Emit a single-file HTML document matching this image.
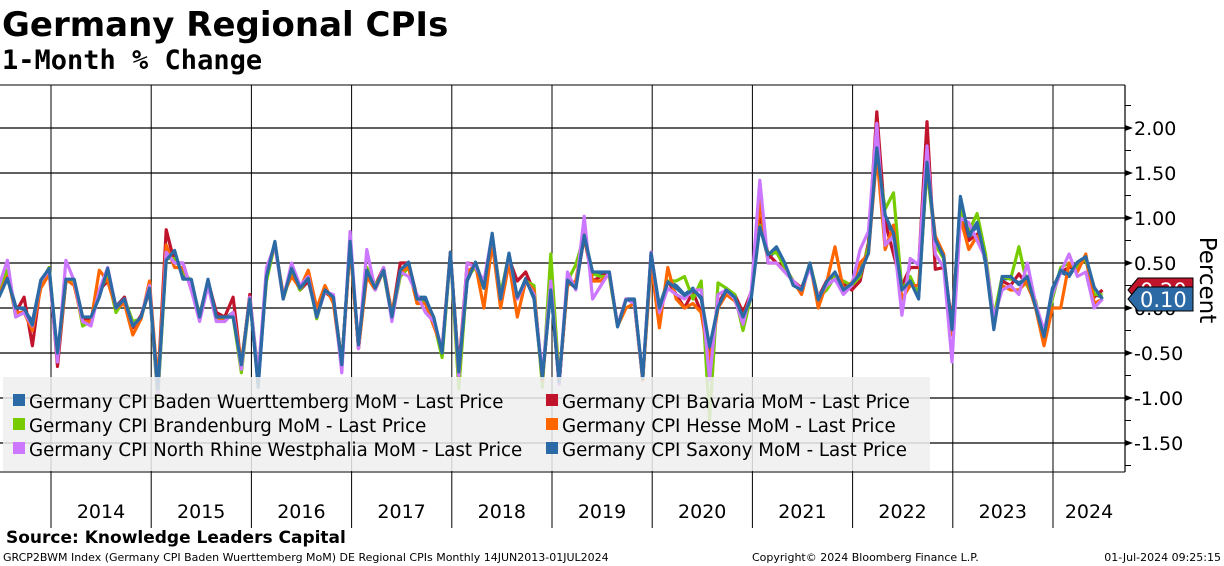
<!DOCTYPE html>
<html><head><meta charset="utf-8"><style>
body{margin:0;background:#fff;width:1224px;height:566px;overflow:hidden;font-family:"DejaVu Sans","Liberation Sans",sans-serif}
svg{display:block}
</style></head><body>
<svg id="c" width="1224" height="566" xmlns="http://www.w3.org/2000/svg">
<text x="2" y="36" font-size="34" font-weight="bold" font-family="DejaVu Sans, sans-serif">Germany Regional CPIs</text>
<text x="2" y="69" font-size="27" font-weight="bold" font-family="DejaVu Sans Mono, monospace">1-Month % Change</text>
<g id="grid"></g>
<g id="series"></g>
<g id="axis"></g>
<g id="legend"></g>
<text x="6" y="543" font-size="17" font-weight="bold">Source: Knowledge Leaders Capital</text>
<text x="3" y="561" font-size="11">GRCP2BWM Index (Germany CPI Baden Wuerttemberg MoM) DE Regional CPIs  Monthly 14JUN2013-01JUL2024</text>
<text x="752" y="561" font-size="11">Copyright© 2024 Bloomberg Finance L.P.</text>
<text x="1221" y="561" font-size="11" text-anchor="end">01-Jul-2024 09:25:15</text>
</svg>
<script>
const years=["2014","2015","2016","2017","2018","2019","2020","2021","2022","2023","2024"];
const yTicks=[2.0,1.5,1.0,0.5,0.0,-0.5,-1.0,-1.5];
const yTickLabels=["2.00","1.50","1.00","0.50","0.00","-0.50","-1.00","-1.50"];
const saxony=[0.12,0.33,0.0,0.0,-0.19,0.31,0.44,-0.5,0.32,0.32,
-0.1,-0.1,0.12,0.44,0.0,0.1,-0.2,-0.1,0.22,-0.9,
0.53,0.64,0.32,0.32,-0.1,0.32,-0.1,-0.1,-0.1,-0.63,
0.1,-0.85,0.35,0.74,0.1,0.44,0.22,0.33,-0.1,0.2,
0.12,-0.63,0.74,-0.41,0.42,0.22,0.42,-0.1,0.42,0.51,
0.1,0.1,-0.1,-0.5,0.62,-0.71,0.31,0.51,0.22,0.83,
0.1,0.61,0.12,0.31,0.12,-0.78,0.2,-0.82,0.31,0.22,
0.81,0.4,0.4,0.4,-0.21,0.09,0.09,-0.78,0.61,0.0,
0.29,0.22,0.14,0.2,0.12,-0.43,0.01,0.2,0.12,-0.1,
0.12,0.9,0.59,0.68,0.5,0.25,0.2,0.5,0.09,0.29,
0.4,0.2,0.27,0.38,0.61,1.78,1.03,0.83,0.2,0.3,
0.1,1.62,0.76,0.57,-0.24,1.24,0.8,0.95,0.53,-0.24,
0.35,0.35,0.26,0.35,0.01,-0.32,0.2,0.42,0.37,0.51,
0.57,0.23,0.1];
const bw=[0.15,0.35,0.02,-0.02,-0.15,0.3,0.42,-0.55,0.3,0.3,
-0.12,-0.12,0.15,0.4,0.02,0.12,-0.22,-0.1,0.2,-1.0,
0.6,0.6,0.35,0.3,-0.12,0.3,-0.08,-0.12,-0.05,-0.65,
0.12,-0.88,0.38,0.72,0.12,0.4,0.2,0.3,-0.08,0.22,
0.1,-0.6,0.72,-0.45,0.4,0.25,0.4,-0.12,0.4,0.5,
0.12,0.12,-0.12,-0.52,0.6,-0.72,0.3,0.5,0.25,0.8,
0.12,0.58,0.1,0.33,0.1,-0.8,0.22,-0.85,0.3,0.25,
0.78,0.38,0.38,0.38,-0.2,0.1,0.1,-0.8,0.58,0.02,
0.3,0.25,0.15,0.22,0.1,-0.45,0.03,0.22,0.1,-0.08,
0.15,0.92,0.55,0.65,0.48,0.28,0.22,0.48,0.1,0.3,
0.38,0.22,0.28,0.4,0.65,1.72,1.0,0.8,0.22,0.32,
0.12,1.6,0.72,0.55,-0.22,1.2,0.78,0.92,0.5,-0.2,
0.32,0.33,0.28,0.33,0.03,-0.3,0.22,0.4,0.35,0.5,
0.55,0.15,0.12];
const bavaria=[0.15,0.38,-0.05,0.12,-0.42,0.28,0.45,-0.65,0.3,0.3,
-0.1,-0.15,0.2,0.3,0.0,0.12,-0.22,-0.08,0.2,-0.85,
0.87,0.5,0.5,0.2,-0.08,0.3,-0.05,-0.1,0.12,-0.65,
0.15,-0.8,0.4,0.7,0.12,0.45,0.2,0.3,-0.05,0.18,
0.1,-0.6,0.7,-0.45,0.4,0.25,0.45,-0.08,0.5,0.5,
0.12,0.08,-0.12,-0.5,0.62,-0.68,0.5,0.48,0.25,0.8,
0.15,0.55,0.3,0.4,0.18,-0.8,0.25,-0.85,0.3,0.22,
0.8,0.3,0.35,0.4,-0.2,0.1,0.05,-0.78,0.62,-0.05,
0.3,0.15,0.0,0.18,-0.05,-0.6,0.05,0.2,0.15,-0.05,
0.18,1.0,0.6,0.5,0.45,0.3,0.22,0.45,0.12,0.3,
0.38,0.28,0.2,0.3,0.72,2.18,0.95,0.6,0.25,0.45,
0.45,2.07,0.43,0.45,-0.15,1.1,0.75,0.82,0.55,-0.1,
0.3,0.25,0.38,0.25,0.05,-0.35,0.15,0.4,0.45,0.45,
0.55,0.12,0.2];
const brandenburg=[0.2,0.42,-0.1,-0.05,-0.2,0.28,0.45,-0.55,0.3,0.3,
-0.2,-0.15,0.2,0.35,-0.05,0.1,-0.15,-0.12,0.25,-1.0,
0.55,0.55,0.4,0.3,-0.08,0.28,-0.15,-0.1,-0.1,-0.72,
0.1,-0.72,0.3,0.72,0.1,0.4,0.2,0.35,-0.12,0.2,
0.1,-0.62,0.7,-0.42,0.45,0.25,0.4,-0.12,0.35,0.45,
0.1,0.05,-0.15,-0.55,0.6,-0.9,0.35,0.45,0.22,0.8,
0.15,0.6,0.1,0.3,0.25,-0.88,0.6,-0.8,0.3,0.48,
0.8,0.38,0.35,0.35,-0.2,0.0,0.05,-0.78,0.5,0.0,
0.3,0.3,0.35,0.1,0.3,-1.25,0.28,0.22,0.15,-0.25,
0.15,0.92,0.6,0.62,0.45,0.3,0.18,0.5,0.12,0.2,
0.35,0.3,0.25,0.35,0.68,1.7,1.1,1.28,0.2,0.35,
0.15,1.55,0.7,0.55,-0.25,1.1,0.85,1.05,0.6,-0.1,
0.35,0.32,0.68,0.25,0.08,-0.35,0.1,0.45,0.5,0.45,
0.55,0.15,0.15];
const hesse=[0.15,0.35,-0.05,-0.05,-0.25,0.22,0.38,-0.55,0.32,0.25,
-0.15,-0.15,0.42,0.3,0.0,0.05,-0.3,-0.12,0.3,-0.85,
0.7,0.45,0.45,0.25,-0.1,0.3,-0.1,-0.15,-0.05,-0.6,
0.1,-0.8,0.4,0.7,0.15,0.35,0.22,0.42,0.0,0.25,
0.05,-0.65,0.68,-0.45,0.35,0.2,0.42,-0.05,0.4,0.45,
0.05,0.05,-0.2,-0.45,0.62,-0.75,0.4,0.48,0.0,0.72,
0.0,0.5,-0.1,0.3,0.2,-0.8,0.25,-0.8,0.25,0.3,
0.85,0.3,0.3,0.38,-0.2,0.0,0.05,-0.8,0.5,-0.22,
0.45,0.1,0.0,0.05,-0.05,-0.6,0.0,0.15,0.08,-0.1,
0.15,1.2,0.5,0.5,0.4,0.3,0.15,0.5,0.0,0.28,
0.68,0.2,0.28,0.5,0.6,1.7,0.65,0.92,0.1,0.25,
0.25,1.6,0.8,0.6,-0.3,1.0,0.65,0.8,0.55,-0.15,
0.25,0.2,0.2,0.3,0.0,-0.42,0.0,0.0,0.5,0.4,
0.6,0.05,0.1];
const nrw=[0.25,0.53,-0.1,-0.05,-0.2,0.3,0.42,-0.6,0.53,0.3,
-0.15,-0.2,0.2,0.45,0.0,0.1,-0.2,-0.1,0.25,-0.95,
0.62,0.5,0.5,0.2,-0.15,0.25,-0.15,-0.15,-0.05,-0.68,
0.12,-0.75,0.45,0.7,0.1,0.5,0.25,0.35,-0.1,0.18,
0.15,-0.72,0.85,-0.45,0.65,0.2,0.45,-0.15,0.4,0.35,
0.15,-0.05,-0.15,-0.45,0.6,-0.75,0.5,0.45,0.3,0.82,
0.1,0.6,0.1,0.3,0.15,-0.75,0.3,-0.85,0.4,0.2,
1.02,0.1,0.25,0.4,-0.2,0.1,0.05,-0.78,0.62,-0.05,
0.22,0.15,0.1,0.2,0.2,-0.8,0.15,0.2,0.1,-0.18,
0.2,1.42,0.5,0.5,0.4,0.3,0.2,0.45,0.12,0.25,
0.32,0.15,0.25,0.65,0.85,2.05,0.7,0.8,-0.08,0.55,
0.48,1.8,0.6,0.45,-0.6,1.0,0.95,0.75,0.55,-0.1,
0.2,0.25,0.15,0.5,0.05,-0.25,0.15,0.4,0.6,0.35,
0.4,0.0,0.1];
const W=1224,xLeft=0,xRight=1125,yTop=85,yBot=472,bandBot=528;
const ns="http://www.w3.org/2000/svg";
function xAt(i){return -1+i*8.36;}
function yAt(v){return 308-v*90;}
function mk(tag,attrs,parent){const e=document.createElementNS(ns,tag);for(const k in attrs)e.setAttribute(k,attrs[k]);parent.appendChild(e);return e;}
const grid=document.getElementById('grid'),ser=document.getElementById('series'),ax=document.getElementById('axis'),leg=document.getElementById('legend');
yTicks.forEach((v,k)=>{
  const l=mk('line',{x1:xLeft,x2:xRight,y1:yAt(v),y2:yAt(v),stroke:'#000','stroke-width':1.2},grid);
  
  
});
const tl=mk('line',{x1:0,x2:xRight,y1:yTop,y2:yTop,stroke:'#000','stroke-width':1},grid);


years.forEach((y,k)=>{
  const x=51+100.2*k;
  const l=mk('line',{x1:x,x2:x,y1:yTop,y2:bandBot,stroke:'#000','stroke-width':1},grid);
  
  
  const cx=(k===years.length-1)?(x+xRight)/2:x+50;
  const t=mk('text',{x:cx,y:518,'font-size':19,'text-anchor':'middle'},grid);
  t.textContent=y;
  
  
});
const bl=mk('line',{x1:0,x2:xRight,y1:yBot,y2:yBot,stroke:'#000','stroke-width':1},grid);


const seriesList=[[bw,'#2c6aa6','baden-wuerttemberg'],[bavaria,'#c0142c','bavaria'],[brandenburg,'#77cc00','brandenburg'],[hesse,'#ff6600','hesse'],[nrw,'#cc77ff','north-rhine-westphalia'],[saxony,'#2c6aa6','saxony']];
seriesList.forEach(s=>{
  const d=s[0].map((v,i)=>(i?'L':'M')+xAt(i).toFixed(1)+','+yAt(v).toFixed(1)).join('');
  const p=mk('path',{d:d,fill:'none',stroke:s[1],'stroke-width':3.2,'stroke-linejoin':'round'},ser);
  
  
});
const al=mk('line',{x1:xRight,x2:xRight,y1:yTop,y2:yBot,stroke:'#000','stroke-width':1.2},ax);


for(let v=-2.25;v<=2.51;v+=0.25){
  const y=yAt(v); if(y<yTop||y>yBot)continue;
  mk('line',{x1:xRight,x2:xRight+6,y1:y,y2:y,stroke:'#000','stroke-width':1},ax);
}
yTicks.forEach((v,k)=>{
  const y=yAt(v);
  mk('path',{d:`M${xRight},${y-3}L${xRight+8},${y}L${xRight},${y+3}Z`,fill:'#000'},ax);
  const t=mk('text',{x:1134,y:y+7,'font-size':19},ax);
  t.textContent=yTickLabels[k];
  
  
});
const pt=mk('text',{x:0,y:0,'font-size':23,transform:'translate(1200,280) rotate(90)','text-anchor':'middle'},ax);
pt.textContent='Percent';


function tag(v,col,label,name){
  const y=yAt(v);
  const g=mk('g',{},ax);
  
  
  mk('path',{d:`M1128,${y}L1138,${y-12}L1193,${y-12}L1193,${y+12}L1138,${y+12}Z`,fill:col,stroke:'#000','stroke-width':1},g);
  const t=mk('text',{x:1140,y:y+8,'font-size':21,fill:'#fff'},g);t.textContent=label;
}
tag(bavaria[bavaria.length-1],'#c0142c','0.20','last-value-tag-bavaria');
tag(saxony[saxony.length-1],'#2c6aa6','0.10','last-value-tag-saxony');
const lb=mk('rect',{x:3,y:377,width:927,height:94,fill:'#eeeeee','fill-opacity':0.85},leg);


const entries=[['#2c6aa6','Germany CPI Baden Wuerttemberg MoM - Last Price',13,401],['#c0142c','Germany CPI Bavaria MoM - Last Price',546,401],['#77cc00','Germany CPI Brandenburg MoM - Last Price',13,425],['#ff6600','Germany CPI Hesse MoM - Last Price',546,425],['#cc77ff','Germany CPI North Rhine Westphalia MoM - Last Price',13,449],['#2c6aa6','Germany CPI Saxony MoM - Last Price',546,449]];
entries.forEach(e=>{
  const g=mk('g',{},leg);
  
  
  mk('rect',{x:e[2],y:e[3]-7,width:12,height:12,fill:e[0]},g);
  const t=mk('text',{x:e[2]+16,y:e[3]+7,'font-size':18.2},g);t.textContent=e[1];
});
</script>
</body></html>
